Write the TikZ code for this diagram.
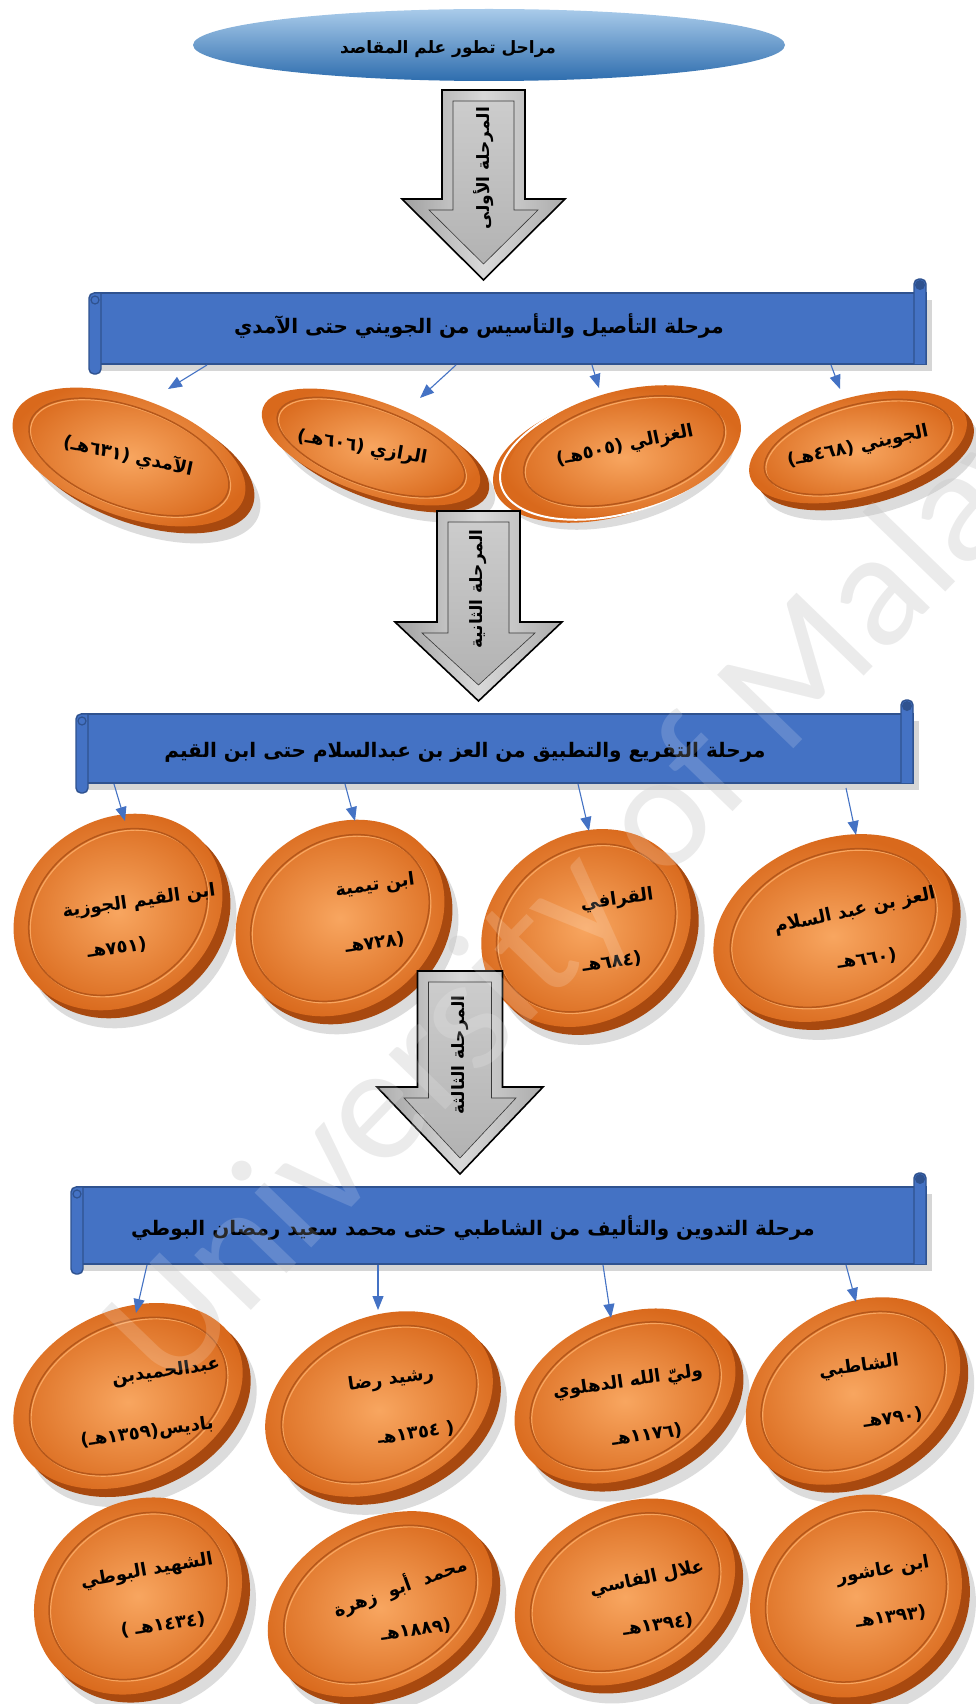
\documentclass[tikz,border=0pt]{standalone}
\usepackage{fontspec}
\usetikzlibrary{arrows.meta,calc}
\TeXXeTstate=1
\newfontfamily\arabicfont[Script=Arabic]{DejaVu Sans}
\newfontfamily\wmfont{Carlito}
\definecolor{bannerblue}{HTML}{4472C4}
\definecolor{bannerdark}{HTML}{2F528F}
\definecolor{conblue}{HTML}{4472C4}
\definecolor{coinlight}{HTML}{F8A660}
\definecolor{coinedge}{HTML}{D9691C}
\definecolor{coinrim}{HTML}{A8490F}
\definecolor{coinring}{HTML}{B5571A}
\definecolor{ovaltop}{HTML}{A9CBEA}
\definecolor{ovalbot}{HTML}{2E6DAE}

\tikzset{
  conn/.style={draw=conblue, line width=1.1pt, -{Triangle[length=14pt,width=11pt]}},
  cointxt/.style={font=\arabicfont\bfseries\fontsize{18}{21}\selectfont, inner sep=0pt},
  bannertxt/.style={font=\arabicfont\bfseries\fontsize{20}{24}\selectfont, inner sep=0pt},
  arrowtxt/.style={font=\arabicfont\bfseries\fontsize{17}{20}\selectfont, inner sep=0pt, rotate=90},
  wmback/.style={font=\wmfont\fontsize{165}{165}\selectfont, text=black!9, inner sep=0pt},
  wmfront/.style={font=\wmfont\fontsize{165}{165}\selectfont, text=white, text opacity=0.16, inner sep=0pt}
}

% cx cy a b theta rimdx rimdy
\newcommand{\drawcoin}[7]{%
  \fill[black!45, opacity=0.3, shift={(#1+#6+6,#2+#7+10)}, rotate=#5] (0,0) ellipse [x radius=#3, y radius=#4];
  \fill[coinrim, shift={(#1+#6,#2+#7)}, rotate=#5] (0,0) ellipse [x radius=#3, y radius=#4];
  \shade[inner color=coinlight, outer color=coinedge, shift={(#1,#2)}, rotate=#5] (0,0) ellipse [x radius=#3, y radius=#4];
  \draw[coinlight, line width=1.2pt, shift={(#1+1.5,#2+1.5)}, rotate=#5] (0,0) ellipse [x radius=#3*0.86, y radius=#4*0.84];
  \draw[coinring, line width=1.5pt, shift={(#1,#2)}, rotate=#5] (0,0) ellipse [x radius=#3*0.86, y radius=#4*0.84];
}

% cx yt halfshaft halfhead yhead ytip
\newcommand{\grayarrow}[6]{%
  \shadedraw[left color=gray!75, right color=gray!65, middle color=gray!30, draw=black, line width=1.6pt, line join=miter]
    (#1-#3,#2) -- (#1+#3,#2) -- (#1+#3,#5) -- (#1+#4,#5) -- (#1,#6) -- (#1-#4,#5) -- (#1-#3,#5) -- cycle;
  \shadedraw[top color=gray!40, bottom color=gray!60, draw=gray!45!black, line width=0.6pt]
    (#1-#3+11,#2+11) -- (#1+#3-11,#2+11) -- (#1+#3-11,#5+11) -- (#1+#4-27,#5+11) -- (#1,#6-16) -- (#1-#4+27,#5+11) -- (#1-#3+11,#5+11) -- cycle;
}

% L T R B
\newcommand{\drawbanner}[4]{%
  \fill[black!35, opacity=0.45] (#1+7,#2+7) rectangle (#3+6,#4+7);
  \filldraw[fill=bannerblue, draw=bannerdark, line width=1.4pt] (#1+6,#2) rectangle (#3,#4);
  \filldraw[fill=bannerblue, draw=bannerdark, line width=1.4pt, rounded corners=5pt]
    (#3-12,#4) -- (#3-12,#2-14) -- (#3,#2-14) -- (#3,#4);
  \fill[bannerdark] (#3-6,#2-8) circle [radius=5];
  \filldraw[fill=bannerblue, draw=bannerdark, line width=1.4pt, rounded corners=5pt]
    (#1+12,#2) -- (#1,#2) -- (#1,#4+10) -- (#1+12,#4+10) -- (#1+12,#2);
  \draw[bannerdark, line width=1.2pt] (#1+6,#2+7) circle [radius=4];
}

\begin{document}
\begin{tikzpicture}[x=1pt,y=-1pt]
\useasboundingbox (0,0) rectangle (976,1704);
\fill[white] (0,0) rectangle (976,1704);

% watermark (background)
\begin{scope}
\clip (0,0) rectangle (976,1704);
\node[wmback, rotate=46, anchor=base west] (wm) at (170,1395) {University of Malaya};
\end{scope}

% title oval
\shade[top color=ovaltop, bottom color=ovalbot] (489,45) ellipse [x radius=296, y radius=36];
\node[font=\arabicfont\bfseries\fontsize{17}{20}\selectfont, inner sep=0pt] (title) at (448,49) {\beginR مراحل تطور علم المقاصد\endR};

% stage 1 arrow
\grayarrow{483.5}{90}{41.5}{81.5}{199}{280}
\node[arrowtxt] (a1) at (483.5,168) {\beginR المرحلة الأولى\endR};

% banner 1
\drawbanner{89}{293}{926}{364}
\node[bannertxt] (b1) at (479,326) {\beginR مرحلة التأصيل والتأسيس من الجويني حتى الآمدي\endR};

% row 1 coins
\drawcoin{129}{457}{122}{59}{-20}{9}{7}
\drawcoin{371}{447}{115}{46}{-20}{9}{7}
\fill[black!45, opacity=0.3, shift={(618,464)}, rotate=15] (0,0) ellipse [x radius=120, y radius=60];
\fill[coinedge, shift={(610,457)}, rotate=15] (0,0) ellipse [x radius=120, y radius=60];
\draw[white, line width=2pt, shift={(617,454)}, rotate=15] (0,0) ellipse [x radius=120, y radius=60];
\shade[inner color=coinlight, outer color=coinedge, shift={(624,451)}, rotate=15] (0,0) ellipse [x radius=120, y radius=60];
\draw[coinlight, line width=1.2pt, shift={(625.5,452.5)}, rotate=15] (0,0) ellipse [x radius=103, y radius=50];
\draw[coinring, line width=1.5pt, shift={(624,451)}, rotate=15] (0,0) ellipse [x radius=103, y radius=50];
\drawcoin{858}{447}{112}{50}{15}{7}{7}

\node[cointxt, rotate=-12] (c11) at (128,456) {\beginR الآمدي (٦٣١هـ)\endR};
\node[cointxt, rotate=-10] (c12) at (362,448) {\beginR الرازي (٦٠٦هـ)\endR};
\node[cointxt, rotate=12] (c13) at (625,446) {\beginR الغزالي (٥٠٥هـ)\endR};
\node[cointxt, rotate=12] (c14) at (858,447) {\beginR الجويني (٤٦٨هـ)\endR};

\coordinate (s11) at (207,365); \coordinate (t11) at (168,389);
\coordinate (s12) at (456,365); \coordinate (t12) at (420,398);
\coordinate (s13) at (592,365); \coordinate (t13) at (599,388);
\coordinate (s14) at (831,365); \coordinate (t14) at (840,389);
\draw[conn] (s11) -- (t11);
\draw[conn] (s12) -- (t12);
\draw[conn] (s13) -- (t13);
\draw[conn] (s14) -- (t14);

% stage 2 arrow
\grayarrow{478.5}{511}{41.5}{83.5}{622}{701}
\node[arrowtxt] (a2) at (478.5,589) {\beginR المرحلة الثانية\endR};

% banner 2
\drawbanner{76}{714}{913}{783}
\node[bannertxt] (b2) at (465,752) {\beginR مرحلة التفريع والتطبيق من العز بن عبدالسلام حتى ابن القيم\endR};

% row 2 coins
\drawcoin{118}{912}{110}{92}{35}{8}{8}
\drawcoin{340}{918}{110}{92}{35}{8}{8}
\drawcoin{586}{928}{110}{93}{35}{8}{8}
\drawcoin{833}{928}{124}{88}{22}{8}{8}

\node[cointxt, rotate=8] (c21) at (139,902) {\beginR ابن القيم الجوزية\endR};
\node[cointxt, rotate=8] (c21y) at (117,948) {\beginR (٧٥١هـ\endR};
\node[cointxt, rotate=8] (c22) at (375,886) {\beginR ابن تيمية\endR};
\node[cointxt, rotate=8] (c22y) at (375,943) {\beginR (٧٢٨هـ\endR};
\node[cointxt, rotate=8] (c23) at (617,900) {\beginR القرافي\endR};
\node[cointxt, rotate=8] (c23y) at (612,962) {\beginR (٦٨٤هـ\endR};
\node[cointxt, rotate=12] (c24) at (855,911) {\beginR العز بن عبد السلام\endR};
\node[cointxt, rotate=8] (c24y) at (867,959) {\beginR (٦٦٠هـ\endR};

\coordinate (s21) at (114,784); \coordinate (t21) at (125,821);
\coordinate (s22) at (345,784); \coordinate (t22) at (355,821);
\coordinate (s23) at (578,784); \coordinate (t23) at (589,831);
\coordinate (s24) at (846,788); \coordinate (t24) at (856,835);
\draw[conn] (s21) -- (t21);
\draw[conn] (s22) -- (t22);
\draw[conn] (s23) -- (t23);
\draw[conn] (s24) -- (t24);

% stage 3 arrow
\grayarrow{460}{971}{42.5}{83}{1087}{1174}
\node[arrowtxt] (a3) at (460,1055) {\beginR المرحلة الثالثة\endR};

% banner 3
\drawbanner{71}{1187}{926}{1264}
\node[bannertxt] (b3) at (473,1228) {\beginR مرحلة التدوين والتأليف من الشاطبي حتى محمد سعيد رمضان البوطي\endR};

% row 3 coins
\drawcoin{128}{1396}{120}{86}{25}{8}{8}
\drawcoin{379}{1404}{119}{86}{25}{8}{8}
\drawcoin{625}{1396}{116}{80}{25}{8}{8}
\drawcoin{853}{1391}{115}{84}{32}{8}{8}

\node[cointxt, rotate=8] (c31) at (166,1372) {\beginR عبدالحميدبن\endR};
\node[cointxt, rotate=8] (c31y) at (147,1433) {\beginR باديس(١٣٥٩هـ)\endR};
\node[cointxt, rotate=8] (c32) at (391,1380) {\beginR رشيد رضا\endR};
\node[cointxt, rotate=8] (c32y) at (416,1433) {\beginR ( ١٣٥٤هـ\endR};
\node[cointxt, rotate=8] (c33) at (628,1382) {\beginR وليّ الله الدهلوي\endR};
\node[cointxt, rotate=8] (c33y) at (647,1435) {\beginR (١١٧٦هـ\endR};
\node[cointxt, rotate=8] (c34) at (859,1367) {\beginR الشاطبي\endR};
\node[cointxt, rotate=8] (c34y) at (893,1418) {\beginR (٧٩٠هـ\endR};

\coordinate (s31) at (147,1265); \coordinate (t31) at (136,1313);
\coordinate (s32) at (378,1265); \coordinate (t32) at (378,1310);
\coordinate (s33) at (603,1265); \coordinate (t33) at (611,1318);
\coordinate (s34) at (846,1265); \coordinate (t34) at (856,1302);
\draw[conn] (s31) -- (t31);
\draw[conn] (s32) -- (t32);
\draw[conn] (s33) -- (t33);
\draw[conn] (s34) -- (t34);

% row 4 coins
\drawcoin{138}{1596}{109}{93}{35}{8}{8}
\drawcoin{380}{1604}{119}{84}{28}{8}{8}
\drawcoin{625}{1592}{116}{86}{28}{8}{8}
\drawcoin{856}{1596}{110}{97}{35}{8}{8}

\node[cointxt, rotate=10] (c41) at (147,1571) {\beginR الشهيد البوطي\endR};
\node[cointxt, rotate=8] (c41y) at (163,1625) {\beginR (١٤٣٤هـ )\endR};
\node[cointxt, rotate=20] (c42) at (400,1587) {\beginR محمد\ \ أبو\ \ زهرة\endR};
\node[cointxt, rotate=8] (c42y) at (416,1630) {\beginR (١٨٨٩هـ\endR};
\node[cointxt, rotate=12] (c43) at (647,1579) {\beginR علال الفاسي\endR};
\node[cointxt, rotate=8] (c43y) at (658,1625) {\beginR (١٣٩٤هـ\endR};
\node[cointxt, rotate=10] (c44) at (883,1571) {\beginR ابن عاشور\endR};
\node[cointxt, rotate=8] (c44y) at (891,1617) {\beginR (١٣٩٣هـ\endR};

% watermark (faint overlay)
\begin{scope}
\clip (0,0) rectangle (976,1704);
\node[wmfront, rotate=46, anchor=base west] (wm2) at (170,1395) {University of Malaya};
\end{scope}
\end{tikzpicture}
\end{document}
